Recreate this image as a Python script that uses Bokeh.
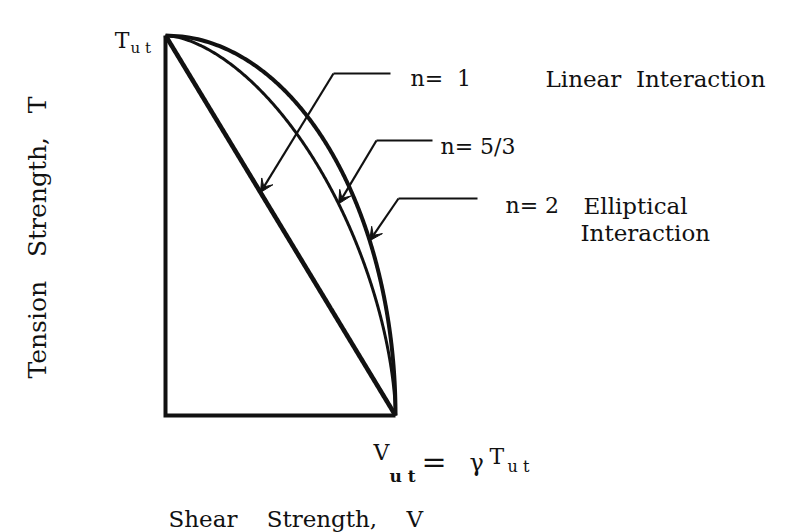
import numpy as np
from bokeh.plotting import figure
from bokeh.models import Range1d, Arrow, VeeHead
from bokeh.core.properties import value
from bokeh.embed import file_html
from bokeh.resources import INLINE

NB = "\u00a0"

# Interaction exponents: (V/Vut)^n + (T/Tut)^n = 1
n_values = [1.0, 5.0 / 3.0, 2.0]
n_labels = ["n=" + NB * 2 + "1", "n=" + NB + "5/3", "n=" + NB + "2"]
n_notes = ["Linear" + NB * 2 + "Interaction", "", "Elliptical"]
n_notes2 = ["", "", "Interaction"]

# Normalised strengths at the ends of the envelope
v_ut = 1.0
t_ut = 1.0

W, H = 785, 532
# Pixel placement of the diagram frame
X0, X1 = 165.0, 395.0
Y0, Y1 = 415.0, 35.0


def px(x):
    return (x - X0) / (X1 - X0) * v_ut


def py(y):
    return (Y0 - y) / (Y0 - Y1) * t_ut


p = figure(width=W, height=H, output_backend="svg", toolbar_location=None,
           x_range=Range1d(px(0), px(W)), y_range=Range1d(py(H), py(0)),
           x_axis_type=None, y_axis_type=None, min_border=0)
p.grid.visible = False
p.outline_line_color = None
p.background_fill_color = "white"
p.border_fill_color = "white"

FONT = value("DejaVu Serif")
INK = "#111111"


def label(x, y, s, size, align="left", baseline="alphabetic", style="normal", angle=0.0):
    p.text(x=[px(x)], y=[py(y)], text=[s], text_font=FONT, text_font_size=size,
           text_align=align, text_baseline=baseline, text_font_style=style,
           angle=angle, text_color=INK)


# Axes of the diagram
p.line([0, 0, v_ut], [t_ut, 0, 0], line_color=INK, line_width=4,
       line_join="miter")

# Interaction curves
curve_widths = [4.6, 3.0, 4.0]
t = np.linspace(0.0, 1.0, 400)
for n, lw in zip(n_values, curve_widths):
    v = (1.0 - t ** n) ** (1.0 / n)
    p.line(v * v_ut, t * t_ut, line_color=INK, line_width=lw)

# Leader lines with arrowheads pointing at each curve
tip_t = [0.587, 0.557, 0.46]
leaders = [((390, 73), (333, 73)), ((432, 140), (376, 140)), ((477, 198), (398, 198))]
for n, tt, (a, b) in zip(n_values, tip_t, leaders):
    tv = (1.0 - tt ** n) ** (1.0 / n)
    p.line([px(a[0]), px(b[0])], [py(a[1]), py(b[1])], line_color=INK, line_width=2.2)
    p.add_layout(Arrow(end=VeeHead(size=13, fill_color=INK, line_color=INK, line_width=1),
                       x_start=px(b[0]), y_start=py(b[1]), x_end=tv * v_ut, y_end=tt * t_ut,
                       line_color=INK, line_width=2.2))

# Curve labels
label_pos = [(410, 78), (440, 146), (505, 205)]
for lab, (x, y) in zip(n_labels, label_pos):
    label(x, y, lab, "22px")
label(545, 78, n_notes[0], "23px")
label(583, 205, n_notes[2], "23px")
label(580, 232, n_notes2[2], "23px")

# T_ut at the top of the tension axis
label(129, 40, "T", "22px", align="right")
label(130, 47, "u" + NB + "t", "15px")

# V_ut = gamma T_ut at the end of the shear axis
label(373, 452, "V", "22px")
label(389, 475, "u" + NB + "t", "17px", style="bold")
label(421, 461, "=", "30px")
label(469, 462, "\u03b3", "24px")
label(489, 456, "T", "22px")
label(507, 466, "u" + NB + "t", "16px")

# Axis titles
label(168, 518, "Shear" + NB * 4 + "Strength," + NB * 4 + "V", "23px")
label(37, 237, "Tension" + NB * 3 + "Strength," + NB * 3 + "T", "25px",
      align="center", angle=np.pi / 2)

open("out.html", "w").write(file_html(p, INLINE))
